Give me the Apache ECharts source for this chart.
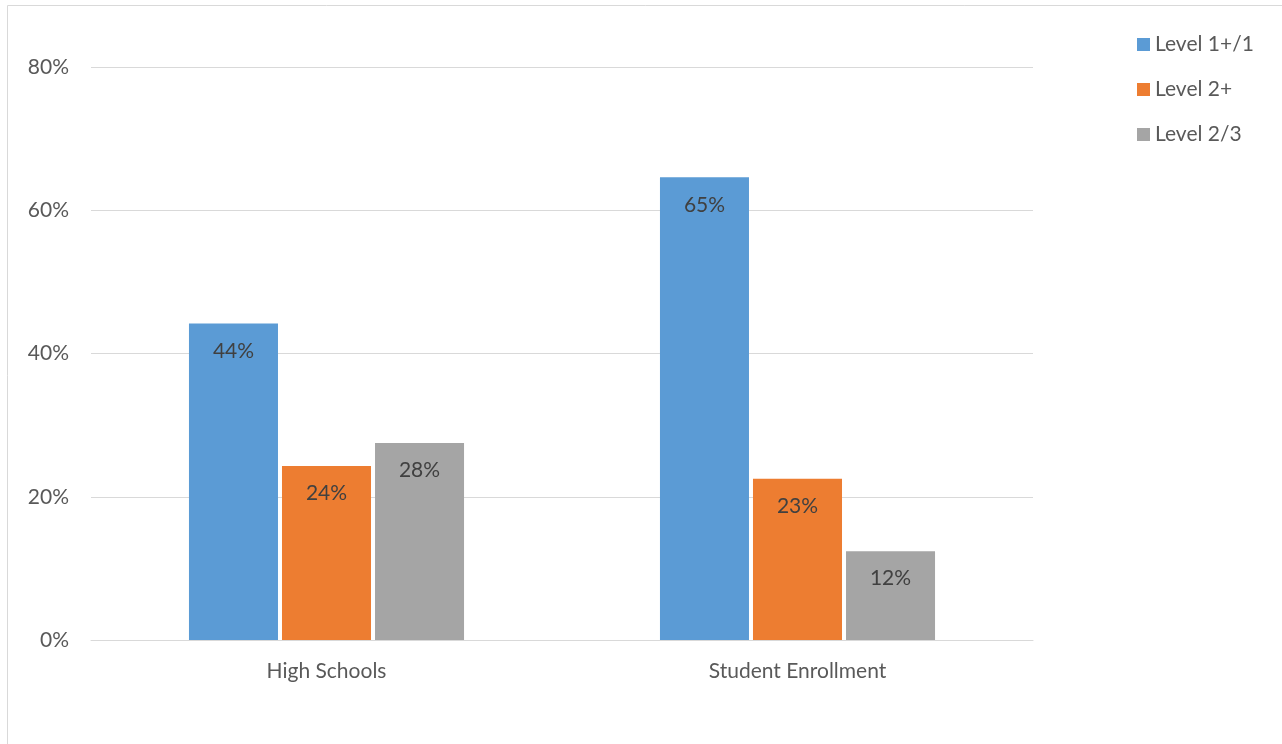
<!DOCTYPE html>
<html>
<head>
<meta charset="utf-8">
<script src="https://cdn.jsdelivr.net/npm/echarts@6/dist/echarts.min.js"></script>
<style>html,body{margin:0;padding:0;background:#fff}#c{width:1282px;height:744px}</style>
</head>
<body>
<div id="c"></div>
<script>
const categories = ['High Schools', 'Student Enrollment'];
const level1 = [44.2, 64.6];
const level2plus = [24.3, 22.5];
const level23 = [27.5, 12.4];
const seriesNames = ['Level 1+/1', 'Level 2+', 'Level 2/3'];
const colors = ['#5b9bd5', '#ed7d31', '#a5a5a5'];
const yTicks = [0, 20, 40, 60, 80];

const font = 'Lato, Open Sans, sans-serif';
const fs = 21;
const chart = echarts.init(document.getElementById('c'));
const mk = (name, data, color) => ({
  name, type: 'bar', data,
  barWidth: '18.9%', barGap: '4.5%',
  itemStyle: { color },
  label: { show: true, position: 'insideTop', distance: 17, formatter: p => Math.round(p.value) + '%', color: '#404040', fontSize: fs, fontFamily: font }
});
chart.setOption({
  animation: false,
  graphic: [{ type: 'rect', shape: { x: 7.5, y: 5.5, width: 1400, height: 900 }, style: { fill: 'none', stroke: '#d9d9d9', lineWidth: 1 } }],
  legend: {
    orient: 'vertical', left: 1132, top: 29, itemWidth: 13, itemHeight: 13, itemGap: 24,
    icon: 'rect', data: seriesNames,
    textStyle: { color: '#595959', fontSize: fs, fontFamily: font, lineHeight: 18 }
  },
  grid: { left: 91, right: 249, top: 67, bottom: 104, containLabel: false },
  xAxis: {
    type: 'category', data: categories,
    axisLine: { lineStyle: { color: '#d9d9d9', width: 1 } },
    axisTick: { show: false },
    axisLabel: { color: '#595959', fontSize: fs, fontFamily: font, margin: 21 }
  },
  yAxis: {
    type: 'value', min: yTicks[0], max: yTicks[yTicks.length - 1], interval: 20,
    axisLine: { show: false }, axisTick: { show: false },
    splitLine: { lineStyle: { color: '#d9d9d9', width: 1 } },
    axisLabel: { color: '#595959', fontSize: fs, fontFamily: font, margin: 22, formatter: v => v + '%' }
  },
  series: [mk(seriesNames[0], level1, colors[0]), mk(seriesNames[1], level2plus, colors[1]), mk(seriesNames[2], level23, colors[2])]
});
</script>
</body>
</html>
